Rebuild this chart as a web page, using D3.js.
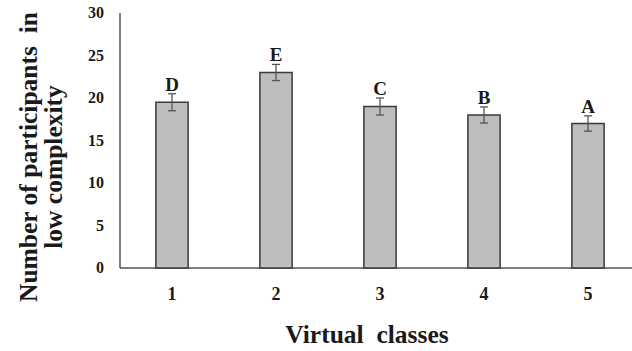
<!DOCTYPE html>
<html><head><meta charset="utf-8">
<script src="https://cdn.jsdelivr.net/npm/d3@7"></script>
<style>body{margin:0;background:#fff}svg{display:block}text{font-family:"Liberation Serif","Times New Roman",serif;font-weight:bold;fill:#1a1a1a;white-space:pre}</style>
</head><body>
<script>
const categories = ["1","2","3","4","5"];
const values = [19.5, 23, 19, 18, 17];
const errors = [1, 0.95, 1, 0.95, 0.9];
const letters = ["D","E","C","B","A"];
const yTicks = [0,5,10,15,20,25,30];

const W=632,H=351;
const svg=d3.select("body").append("svg").attr("width",W).attr("height",H);
const x=d3.scaleBand().domain(categories).range([120,640]).paddingInner(0.69).paddingOuter(0.345);
const y=d3.scaleLinear().domain([0,30]).range([268,13]);

svg.append("line").attr("x1",120).attr("x2",632).attr("y1",y(0)).attr("y2",y(0)).attr("stroke","#555").attr("stroke-width",1.5);
svg.append("line").attr("x1",120).attr("x2",120).attr("y1",y(30)).attr("y2",y(0)).attr("stroke","#555").attr("stroke-width",1.5);

svg.selectAll(".yt").data(yTicks).join("text").attr("x",104).attr("y",d=>y(d)+5).attr("text-anchor","end").attr("font-size",16).text(d=>d);
svg.selectAll(".xt").data(categories).join("text").attr("x",d=>x(d)+x.bandwidth()/2).attr("y",300).attr("text-anchor","middle").attr("font-size",18).text(d=>d);

svg.selectAll(".bar").data(values).join("rect")
 .attr("x",(d,i)=>x(categories[i])).attr("width",x.bandwidth())
 .attr("y",d=>y(d)).attr("height",d=>y(0)-y(d))
 .attr("fill","#bdbdbd").attr("stroke","#3a3a3a").attr("stroke-width",1.5);

const eb=svg.selectAll(".eb").data(values).join("g").attr("stroke","#555").attr("stroke-width",1.3);
eb.append("line").attr("x1",(d,i)=>x(categories[i])+x.bandwidth()/2).attr("x2",(d,i)=>x(categories[i])+x.bandwidth()/2)
 .attr("y1",(d,i)=>y(d+errors[i])).attr("y2",(d,i)=>y(d-errors[i]));
[1,-1].forEach(s=>{
 eb.append("line").attr("x1",(d,i)=>x(categories[i])+x.bandwidth()/2-4).attr("x2",(d,i)=>x(categories[i])+x.bandwidth()/2+4)
  .attr("y1",(d,i)=>y(d+s*errors[i])).attr("y2",(d,i)=>y(d+s*errors[i]));
});

svg.selectAll(".lt").data(values).join("text").attr("x",(d,i)=>x(categories[i])+x.bandwidth()/2)
 .attr("y",(d,i)=>y(d+errors[i])-3).attr("text-anchor","middle").attr("font-size",19).text((d,i)=>letters[i]);

svg.append("text").attr("transform","translate(37,157) rotate(-90)").attr("text-anchor","middle").attr("font-size",25.5).text("Number of participants  in");
svg.append("text").attr("transform","translate(62,167) rotate(-90)").attr("text-anchor","middle").attr("font-size",25.5).text("low complexity");
svg.append("text").attr("x",367).attr("y",343).attr("text-anchor","middle").attr("font-size",25.5).text("Virtual  classes");
</script>
</body></html>
